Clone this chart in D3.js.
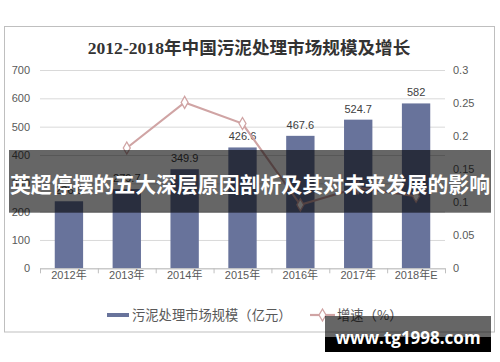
<!DOCTYPE html>
<html><head><meta charset="utf-8">
<script src="https://cdn.jsdelivr.net/npm/d3@7/dist/d3.min.js"></script>
<style>
html,body{margin:0;padding:0;background:#fff;}
svg{display:block;}
</style></head>
<body>
<svg id="c" width="500" height="362"></svg>
<script>
const categories = ["2012年","2013年","2014年","2015年","2016年","2017年","2018年E"];
const marketSize = [236.6, 279.7, 349.9, 426.6, 467.6, 524.7, 582];
const sizeLabels = ["236.6","279.7","349.9","426.6","467.6","524.7","582"];
const growth = [null, 0.182, 0.251, 0.219, 0.096, 0.122, 0.109];
const leftTicks = [0,100,200,300,400,500,600,700];
const rightTicks = [0,0.05,0.1,0.15,0.2,0.25,0.3];

const svg = d3.select("#c");
const L = 40, R = 445, T = 70, B = 268.3;

// frame
svg.append("rect").attr("x",4.5).attr("y",26.5).attr("width",490).attr("height",305.5)
  .attr("fill","#fff").attr("stroke","#bfbfbf").attr("stroke-width",1);

// title
svg.append("text").attr("x",249).attr("y",53.5).attr("text-anchor","middle")
  .attr("font-family","'Liberation Serif','Noto Sans CJK SC',serif").attr("font-weight","bold")
  .attr("font-size",17.6).attr("fill","#333").text("2012-2018年中国污泥处理市场规模及增长");

const x = d3.scaleBand().domain(categories).range([L,R]).paddingInner(0.51).paddingOuter(0.255);
const yL = d3.scaleLinear().domain([0,700]).range([B,T]);
const yR = d3.scaleLinear().domain([0,0.3]).range([B,T]);

// left axis with gridlines
const gl = svg.append("g").attr("transform",`translate(${L},0)`)
  .call(d3.axisLeft(yL).tickValues(leftTicks).tickSize(-(R-L)).tickPadding(10).tickFormat(d3.format("d")));
gl.select(".domain").remove();
gl.selectAll(".tick line").attr("stroke","#d9d9d9");
gl.selectAll(".tick text").attr("font-family","'Liberation Sans',Arial,sans-serif").attr("font-size",11).attr("fill","#595959");

// right axis
const gr = svg.append("g").attr("transform",`translate(${R},0)`)
  .call(d3.axisRight(yR).tickValues(rightTicks).tickSize(0).tickPadding(8).tickFormat(d=>d===0?"0":String(+d.toFixed(2))));
gr.select(".domain").remove();
gr.selectAll(".tick text").attr("font-family","'Liberation Sans',Arial,sans-serif").attr("font-size",11).attr("fill","#595959");

// bars
svg.append("g").selectAll("rect").data(marketSize).join("rect")
  .attr("x",(d,i)=>x(categories[i])).attr("width",x.bandwidth())
  .attr("y",d=>yL(d)).attr("height",d=>B-yL(d)).attr("fill","#68739b");

// x axis line + boundary ticks
const xb = d3.scaleLinear().domain([0,categories.length]).range([L,R]);
const gx = svg.append("g").attr("transform",`translate(0,${B})`)
  .call(d3.axisBottom(xb).tickValues(d3.range(0,categories.length+1)).tickSize(5).tickSizeOuter(0).tickFormat(""));
gx.select(".domain").attr("stroke","#bfbfbf");
gx.selectAll(".tick line").attr("stroke","#bfbfbf");

const gx2 = svg.append("g").attr("transform",`translate(0,${B})`)
  .call(d3.axisBottom(x).tickSize(0).tickPadding(3));
gx2.select(".domain").remove();
gx2.selectAll(".tick text").attr("font-family","'Liberation Sans','Noto Sans CJK SC',sans-serif").attr("font-size",11).attr("fill","#595959");

// bar labels
svg.append("g").selectAll("text").data(marketSize).join("text")
  .attr("x",(d,i)=>x(categories[i])+x.bandwidth()/2).attr("y",d=>yL(d)-7)
  .attr("text-anchor","middle").attr("font-family","'Liberation Sans',Arial,sans-serif")
  .attr("font-size",11).attr("fill","#404040").text((d,i)=>sizeLabels[i]);

// growth line
const pts = growth.map((g,i)=>({g,i})).filter(p=>p.g!==null);
const line = d3.line().x(p=>x(categories[p.i])+x.bandwidth()/2).y(p=>yR(p.g));
svg.append("path").datum(pts).attr("d",line).attr("fill","none").attr("stroke","#d0a4a4").attr("stroke-width",2.2);
const diamond = d3.symbol().type(d3.symbolDiamond).size(42);
svg.append("g").selectAll("path").data(pts).join("path")
  .attr("transform",p=>`translate(${x(categories[p.i])+x.bandwidth()/2},${yR(p.g)})`)
  .attr("d",diamond).attr("fill","#fff").attr("stroke","#d0a4a4").attr("stroke-width",1.3);

// legend
const lg = svg.append("g");
lg.append("rect").attr("x",107).attr("y",313).attr("width",22).attr("height",4).attr("fill","#68739b");
lg.append("text").attr("x",132).attr("y",320).attr("font-family","'Noto Sans CJK SC',sans-serif")
  .attr("font-size",13.3).attr("fill","#595959").text("污泥处理市场规模（亿元）");
lg.append("line").attr("x1",310).attr("x2",335).attr("y1",315).attr("y2",315).attr("stroke","#d0a4a4").attr("stroke-width",2.2);
lg.append("path").attr("transform","translate(322.5,315)").attr("d",diamond).attr("fill","#fff").attr("stroke","#d0a4a4").attr("stroke-width",1.3);
lg.append("text").attr("x",337).attr("y",320).attr("font-family","'Noto Sans CJK SC',sans-serif")
  .attr("font-size",13.3).attr("fill","#595959").text("增速（%）");

// overlay banner
svg.append("rect").attr("x",9).attr("y",150).attr("width",482).attr("height",62.7).attr("fill","rgba(0,0,0,0.6)");
svg.append("text").attr("x",250).attr("y",191.5).attr("text-anchor","middle")
  .attr("font-family","'Noto Sans CJK SC',sans-serif").attr("font-weight","bold")
  .attr("font-size",21).attr("textLength",480).attr("lengthAdjust","spacingAndGlyphs")
  .attr("fill","#fff").text("英超停摆的五大深层原因剖析及其对未来发展的影响");

// watermark
svg.append("rect").attr("x",325).attr("y",316).attr("width",166).attr("height",21).attr("fill","rgba(0,0,0,0.6)");
svg.append("rect").attr("x",325).attr("y",337).attr("width",166).attr("height",15).attr("fill","#000");
svg.append("text").attr("x",408).attr("y",343.5).attr("text-anchor","middle")
  .attr("font-family","'Open Sans','DejaVu Sans',sans-serif").attr("font-weight","bold")
  .attr("font-size",17).attr("fill","#fff").text("www.tg1998.com");
</script>
</body></html>
